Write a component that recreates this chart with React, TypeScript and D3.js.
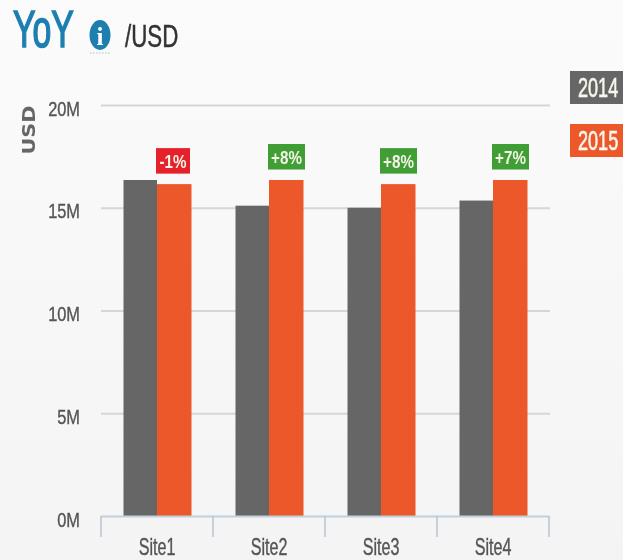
import React, { useEffect, useRef } from 'react'
import * as d3 from 'd3'

// values, in millions of USD
const sites = ['Site1', 'Site2', 'Site3', 'Site4']
const years = ['2014', '2015']
const values2014 = [16.35, 15.1, 15.0, 15.35]
const values2015 = [16.15, 16.35, 16.15, 16.35]
const changes = ['-1%', '+8%', '+8%', '+7%']
const yTicks = [0, 5, 10, 15, 20]

const width = 623
const height = 560
// no condensed face is installed, so Liberation Sans gets squeezed with a transform
const sans = '"Liberation Sans", sans-serif'
const grey = '#666666'
const orange = '#ec582b'
const blue = '#1d7fb0'

const x = d3.scaleBand<string>().domain(sites).range([101, 549])
const y = d3.scaleLinear().domain([0, 20]).range([516, 105])

const squeeze = (px: number, py: number, sx: number) => `translate(${px},${py}) scale(${sx},1)`

export default function App() {
  const ref = useRef<SVGSVGElement>(null)

  useEffect(() => {
    const svg = d3.select(ref.current)
    svg.selectAll('*').remove()

    const defs = svg.append('defs')
    defs.append('filter').attr('id', 'soft')
      .append('feGaussianBlur').attr('stdDeviation', 0.5)

    const bg = defs.append('linearGradient')
      .attr('id', 'page').attr('x1', 0).attr('x2', 0).attr('y1', 0).attr('y2', 1)
    bg.append('stop').attr('offset', '0').attr('stop-color', '#fbfbfb')
    bg.append('stop').attr('offset', '1').attr('stop-color', '#f4f4f4')

    svg.append('rect').attr('width', width).attr('height', height).attr('fill', 'url(#page)')

    const root = svg.append('g').attr('filter', 'url(#soft)')

    // title row, the stroke thickens the squeezed glyphs
    root.append('text').attr('transform', squeeze(13, 47, 0.65))
      .attr('font-family', sans).attr('font-size', 52).attr('fill', blue)
      .attr('stroke', blue).attr('stroke-width', 1.6).text('YoY')
    root.append('ellipse').attr('cx', 100).attr('cy', 35).attr('rx', 10.5).attr('ry', 15).attr('fill', blue)
    root.append('text').attr('transform', squeeze(100, 45, 1)).attr('text-anchor', 'middle')
      .attr('font-family', '"Liberation Serif", serif').attr('font-weight', 'bold')
      .attr('font-size', 25).attr('fill', '#ffffff').text('i')
    root.append('line').attr('x1', 90).attr('x2', 110).attr('y1', 53).attr('y2', 53)
      .attr('stroke', '#9fc3d8').attr('stroke-width', 1).attr('stroke-dasharray', '1.5 1.5')
    root.append('text').attr('transform', squeeze(125, 47, 0.72))
      .attr('font-family', sans).attr('font-size', 31).attr('fill', '#333333')
      .attr('stroke', '#333333').attr('stroke-width', 0.5).text('/USD')

    // y axis: gridlines come from the tick size
    const yAxis = root.append('g').attr('transform', 'translate(101,0)')
      .call(d3.axisLeft(y).tickValues(yTicks).tickSize(-449).tickPadding(21).tickFormat(d => `${d}M`))
    yAxis.select('.domain').remove()
    yAxis.selectAll('line').attr('stroke', '#d6d6d6').attr('stroke-width', 2)
    yAxis.selectAll('text')
      .attr('x', 0).attr('dy', null)
      .attr('transform', squeeze(-21, 10, 0.78))
      .attr('font-family', sans).attr('font-size', 21).attr('fill', '#555555')
      .attr('stroke', '#555555').attr('stroke-width', 0.4)
    yAxis.selectAll('.tick').filter(d => d === 0).select('line').remove()

    root.append('text')
      .attr('transform', 'translate(35,130) rotate(-90)')
      .attr('text-anchor', 'middle')
      .attr('textLength', 49).attr('lengthAdjust', 'spacingAndGlyphs')
      .attr('font-family', '"DejaVu Sans", sans-serif').attr('font-weight', 'bold')
      .attr('font-size', 17).attr('fill', '#666666').text('USD')

    // bars
    const barWidth = 33.5
    const group = root.selectAll('g.site').data(sites).enter().append('g').attr('class', 'site')
      .attr('transform', d => `translate(${x(d)! + x.bandwidth() / 2},0)`)

    group.append('rect')
      .attr('x', -barWidth).attr('width', barWidth)
      .attr('y', (_, i) => y(values2014[i]))
      .attr('height', (_, i) => y(0) - y(values2014[i]))
      .attr('fill', grey)
    group.append('rect')
      .attr('x', 0).attr('width', barWidth + 1)
      .attr('y', (_, i) => y(values2015[i]))
      .attr('height', (_, i) => y(0) - y(values2015[i]))
      .attr('fill', orange)

    // change badges sit over the 2015 bar
    group.append('rect')
      .attr('x', -1).attr('width', (_, i) => (changes[i].startsWith('-') ? 34 : 37))
      .attr('y', (_, i) => y(values2015[i]) - 36).attr('height', 25.5)
      .attr('fill', (_, i) => (changes[i].startsWith('-') ? '#e5212b' : '#3f9e35'))
    group.append('text')
      .attr('transform', (_, i) => squeeze(changes[i].startsWith('-') ? 16 : 17.5, y(values2015[i]) - 16, 0.8))
      .attr('text-anchor', 'middle')
      .attr('font-family', sans).attr('font-size', 19).attr('font-weight', 'bold').attr('fill', '#f4f4e8')
      .text((_, i) => changes[i])

    // x axis: ticks mark the band edges, labels sit at the centres
    const edges = [...sites.map(s => x(s)!), x.range()[1]]
    root.append('line').attr('x1', x.range()[0]).attr('x2', x.range()[1])
      .attr('y1', y(0) + 0.5).attr('y2', y(0) + 0.5).attr('stroke', '#c0d0e0').attr('stroke-width', 2)
    root.selectAll('line.edge').data(edges).enter().append('line').attr('class', 'edge')
      .attr('x1', d => d).attr('x2', d => d).attr('y1', y(0)).attr('y2', y(0) + 21)
      .attr('stroke', '#b4c4d4').attr('stroke-width', 1.5)
    root.selectAll('text.site-label').data(sites).enter().append('text').attr('class', 'site-label')
      .attr('transform', d => squeeze(x(d)! + x.bandwidth() / 2, 555, 0.7)).attr('text-anchor', 'middle')
      .attr('font-family', sans).attr('font-size', 23).attr('fill', '#555555')
      .attr('stroke', '#555555').attr('stroke-width', 0.4).text(d => d)

    // legend
    const legendY = d3.scalePoint<string>().domain(years).range([71, 124])
    const legend = root.selectAll('g.legend').data(years).enter().append('g').attr('class', 'legend')
      .attr('transform', d => `translate(570,${legendY(d)})`)
    legend.append('rect').attr('width', 56).attr('height', 33)
      .attr('fill', (_, i) => (i === 0 ? grey : orange))
    legend.append('text').attr('transform', squeeze(8, 26, 0.67))
      .attr('font-family', sans).attr('font-size', 27).attr('fill', '#f7f7ee')
      .attr('stroke', '#f7f7ee').attr('stroke-width', 0.6).text(d => d)
  }, [])

  return <svg ref={ref} width={width} height={height} style={{ position: 'absolute', left: 0, top: 0 }} />
}
